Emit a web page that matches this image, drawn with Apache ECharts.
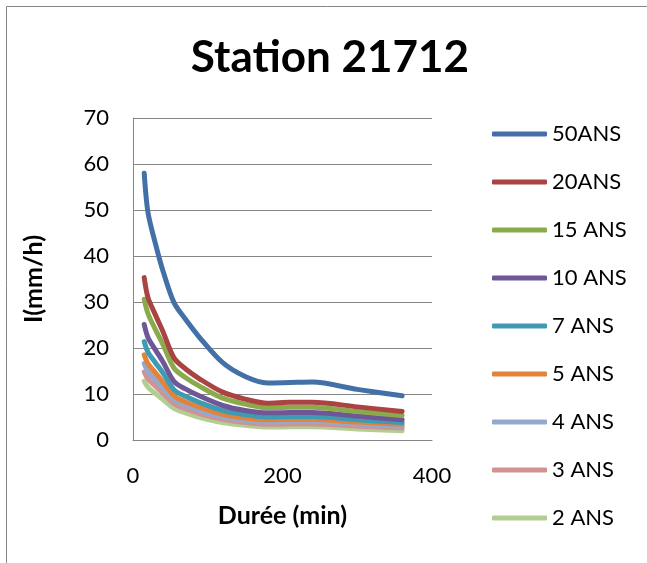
<!DOCTYPE html>
<html>
<head>
<meta charset="utf-8">
<script src="https://cdn.jsdelivr.net/npm/echarts@6/dist/echarts.min.js"></script>
<style>
html,body{margin:0;padding:0;background:#fff;}
#c{width:647px;height:563px;}
</style>
</head>
<body>
<div id="c"></div>
<script>
var durations = [15, 20, 30, 40, 55, 70, 90, 120, 150, 180, 210, 240, 300, 360];
var seriesNames = ['50ANS', '20ANS', '15 ANS', '10 ANS', '7 ANS', '5 ANS', '4 ANS', '3 ANS', '2 ANS'];
var s50 = [58, 49.5, 42.7, 36.8, 29.8, 26.3, 22.1, 16.8, 13.8, 12.4, 12.5, 12.6, 11.0, 9.6];
var s20 = [35.3, 31, 27.2, 23.6, 17.8, 15.5, 13.2, 10.4, 8.9, 8.0, 8.2, 8.2, 7.2, 6.2];
var s15 = [30.6, 27.5, 24, 20.8, 15.6, 13.6, 11.6, 9.1, 7.8, 7.0, 7.1, 7.1, 6.2, 5.3];
var s10 = [25.1, 22.3, 19.6, 17.0, 12.7, 11.1, 9.5, 7.5, 6.4, 5.9, 6.0, 6.0, 5.2, 4.4];
var s7 = [21.4, 19.1, 16.8, 14.6, 10.9, 9.5, 8.1, 6.4, 5.5, 5.0, 5.1, 5.1, 4.4, 3.8];
var s5 = [18.5, 16.6, 14.6, 12.6, 9.6, 8.3, 7.1, 5.6, 4.8, 4.4, 4.5, 4.5, 3.9, 3.4];
var s4 = [16.6, 14.9, 13.1, 11.4, 8.8, 7.6, 6.4, 5.0, 4.3, 3.9, 4.0, 4.0, 3.5, 3.0];
var s3 = [14.8, 13.3, 11.7, 10.2, 7.9, 6.8, 5.7, 4.5, 3.8, 3.4, 3.5, 3.5, 3.0, 2.6];
var s2 = [12.8, 11.5, 10.1, 8.8, 6.9, 5.9, 4.9, 3.8, 3.2, 2.8, 2.9, 2.9, 2.4, 2.0];
var allValues = [s50, s20, s15, s10, s7, s5, s4, s3, s2];
var colors = ['#4470A8', '#AA4442', '#8BAA4B', '#6F5797', '#3E9BB3', '#E3833A', '#93A9D0', '#D09392', '#B3CE92'];
var xTicks = {min: 0, max: 400, interval: 200};
var yTicks = {min: 0, max: 70, interval: 10};

var FONT = 'Lato';
var chart = echarts.init(document.getElementById('c'), null, {renderer: 'canvas'});
var series = allValues.map(function (vals, i) {
  return {
    name: seriesNames[i],
    type: 'line',
    data: durations.map(function (d, j) { return [d, vals[j]]; }),
    symbol: 'none',
    smooth: 0.3,
    lineStyle: {color: colors[i], width: 5, cap: 'round', join: 'round'},
    itemStyle: {color: colors[i]},
    z: 10 - i
  };
});
chart.setOption({
  animation: false,
  backgroundColor: '#fff',
  title: {
    text: 'Station 21712',
    left: 330, top: 36, textAlign: 'center', padding: 0,
    textStyle: {fontFamily: FONT, fontWeight: 'bold', fontSize: 44, color: '#000'}
  },
  graphic: [{
    type: 'rect', shape: {x: 6.5, y: 6.5, width: 700, height: 700},
    style: {fill: 'none', stroke: '#868686', lineWidth: 1}, silent: true, z: -1
  }],
  legend: {
    orient: 'vertical', left: 492, top: 122, padding: 0,
    icon: 'roundRect', itemWidth: 55, itemHeight: 5, itemGap: 24,
    textStyle: {fontFamily: FONT, fontSize: 22, color: '#000', lineHeight: 24},
    data: seriesNames
  },
  grid: {left: 133, top: 118, width: 299, height: 322, containLabel: false},
  xAxis: {
    type: 'value', min: xTicks.min, max: xTicks.max, interval: xTicks.interval,
    name: 'Durée (min)', nameLocation: 'middle', nameGap: 63,
    nameTextStyle: {fontFamily: FONT, fontWeight: 'bold', fontSize: 25, color: '#000'},
    axisLine: {show: true, lineStyle: {color: '#868686', width: 1}},
    axisTick: {show: false},
    splitLine: {show: false},
    axisLabel: {fontFamily: FONT, fontSize: 22, color: '#000', margin: 25}
  },
  yAxis: {
    type: 'value', min: yTicks.min, max: yTicks.max, interval: yTicks.interval,
    name: 'I(mm/h)', nameLocation: 'middle', nameGap: 87,
    nameTextStyle: {fontFamily: FONT, fontWeight: 'bold', fontSize: 25, color: '#000'},
    axisLine: {show: true, lineStyle: {color: '#868686', width: 1}},
    axisTick: {show: false},
    splitLine: {show: true, lineStyle: {color: '#868686', width: 1}},
    axisLabel: {fontFamily: FONT, fontSize: 22, color: '#000', margin: 24}
  },
  series: series
});
</script>
</body>
</html>
